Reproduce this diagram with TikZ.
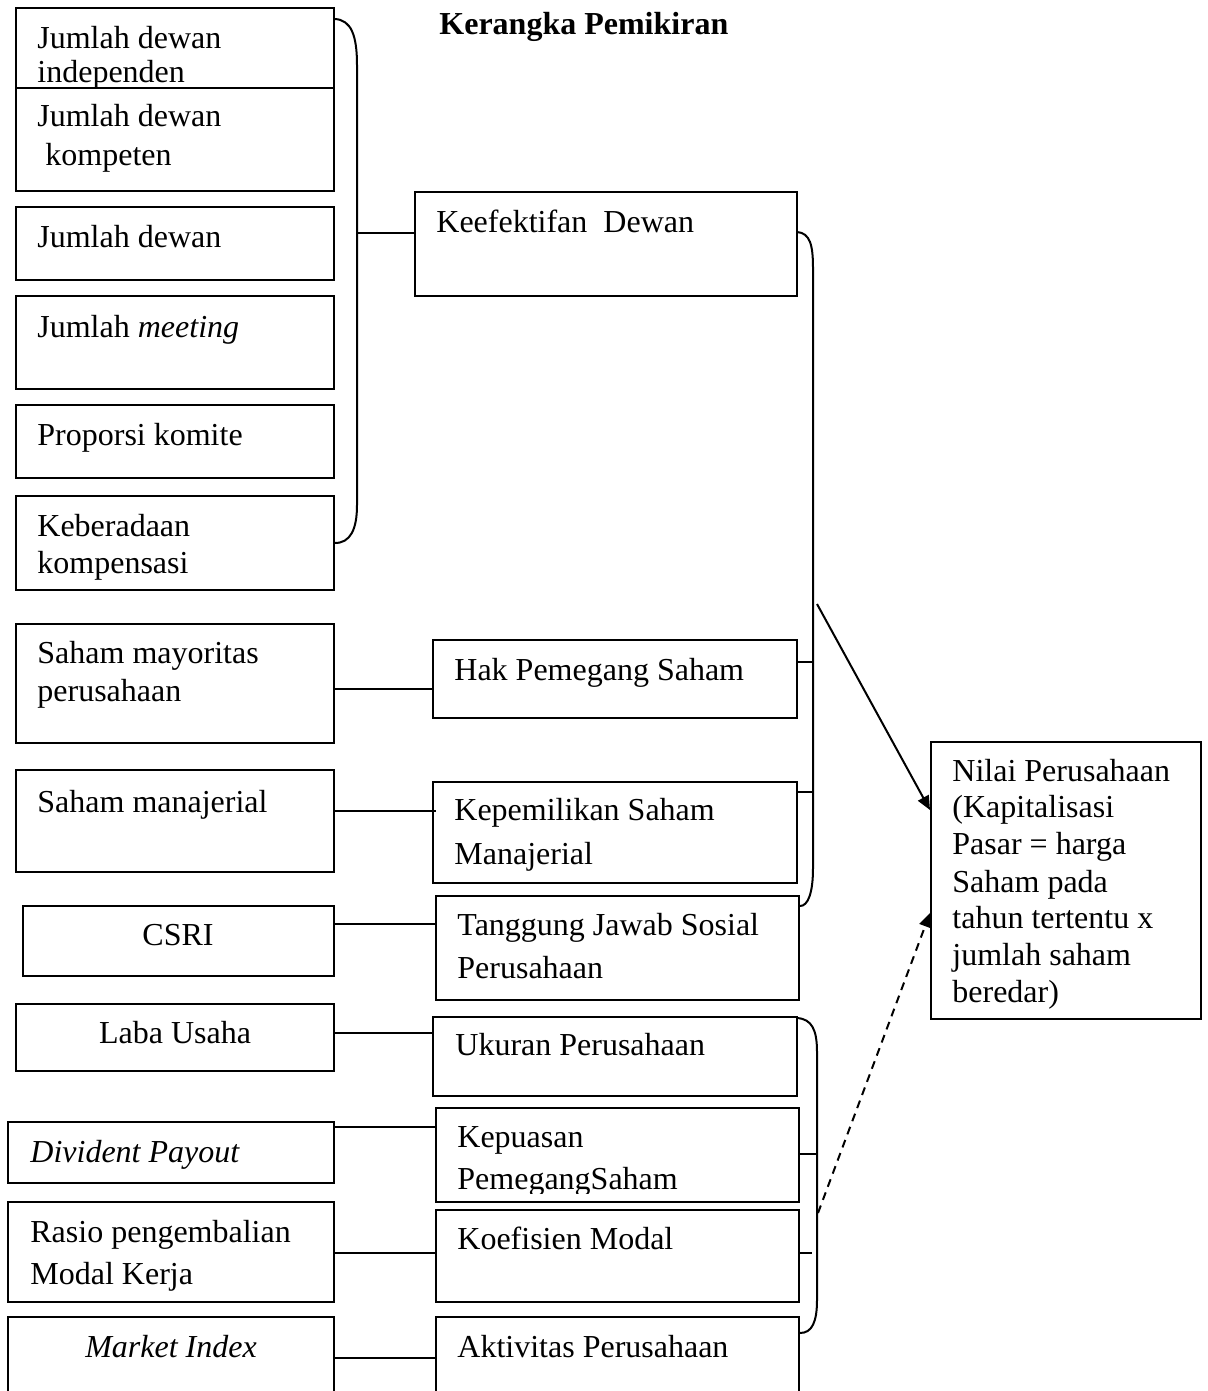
\documentclass[tikz,border=0pt]{standalone}
\usepackage{fontspec}
\setmainfont{Liberation Serif}
\usetikzlibrary{fit,arrows.meta}
\begin{document}
\begin{tikzpicture}[x={(0.5pt,0)}, y={(0,-0.5pt)},
  box/.style={draw, line width=1pt, inner sep=0pt, fill=white},
  txt/.style={anchor=base west, inner sep=0pt, font=\fontsize{16pt}{19pt}\selectfont},
  ctxt/.style={anchor=base, inner sep=0pt, font=\fontsize{16pt}{19pt}\selectfont},
  link/.style={line width=1pt},
  tip/.style={-{Triangle[length=7pt,width=6pt]}}
]
\useasboundingbox (0,0) rectangle (1208,1391);
\clip (0,0) rectangle (1208,1391);

% title
\node[txt, font=\fontsize{16pt}{19pt}\selectfont\bfseries] (title) at (439,35) {Kerangka Pemikiran};

% ---------- left column ----------
\node[box, fit={(16,8)(334,96)}] (b1) {};
\node[txt] (t1a) at (37,49) {Jumlah dewan};
\node[txt] (t1b) at (37,83) {independen};
\node[box, fit={(16,88)(334,191)}] (b2) {};
\node[txt] (t2a) at (37,127) {Jumlah dewan};
\node[txt] (t2b) at (45,166) {kompeten};
\node[box, fit={(16,207)(334,280)}] (b3) {};
\node[txt] (t3) at (37,248) {Jumlah dewan};
\node[box, fit={(16,296)(334,389)}] (b4) {};
\node[txt] (t4) at (37,337) {Jumlah \textit{meeting}};
\node[box, fit={(16,405)(334,478)}] (b5) {};
\node[txt] (t5) at (37,445) {Proporsi komite};
\node[box, fit={(16,496)(334,590)}] (b6) {};
\node[txt] (t6a) at (37,536) {Keberadaan};
\node[txt] (t6b) at (37,573) {kompensasi};
\node[box, fit={(16,624)(334,743)}] (b7) {};
\node[txt] (t7a) at (37,663) {Saham mayoritas};
\node[txt] (t7b) at (37,701) {perusahaan};
\node[box, fit={(16,770)(334,872)}] (b8) {};
\node[txt] (t8) at (37,812) {Saham manajerial};
\node[box, fit={(23,906)(334,976)}] (b9) {};
\node[ctxt] (t9) at (178,945) {CSRI};
\node[box, fit={(16,1004)(334,1071)}] (b10) {};
\node[ctxt] (t10) at (175,1043) {Laba Usaha};
\node[box, fit={(8,1122)(334,1183)}] (b11) {};
\node[txt] (t11) at (30,1162) {\textit{Divident Payout}};
\node[box, fit={(8,1202)(334,1302)}] (b12) {};
\node[txt] (t12a) at (30,1242) {Rasio pengembalian};
\node[txt] (t12b) at (30,1284) {Modal Kerja};
\node[box, fit={(8,1317)(334,1420)}] (b13) {};
\node[ctxt] (t13) at (171,1357) {\textit{Market Index}};

% ---------- middle column ----------
\node[box, fit={(415,192)(797,296)}] (m1) {};
\node[txt] (s1) at (436,233) {Keefektifan\ \ Dewan};
\node[box, fit={(433,640)(797,718)}] (m2) {};
\node[txt] (s2) at (454,680) {Hak Pemegang Saham};
\node[box, fit={(433,782)(797,883)}] (m3) {};
\node[txt] (s3a) at (454,820) {Kepemilikan Saham};
\node[txt] (s3b) at (454,864) {Manajerial};
\node[box, fit={(436,896)(799,1000)}] (m4) {};
\node[txt] (s4a) at (457,935) {Tanggung Jawab Sosial};
\node[txt] (s4b) at (457,978) {Perusahaan};
\node[box, fit={(433,1017)(797,1096)}] (m5) {};
\node[txt] (s5) at (455,1055) {Ukuran Perusahaan};
\node[box, fit={(436,1108)(799,1202)}] (m6) {};
\begin{scope}
\clip (437,1109) rectangle (798,1193);
\node[txt] (s6a) at (457,1147) {Kepuasan};
\node[txt] (s6b) at (457,1189) {PemegangSaham};
\end{scope}
\node[box, fit={(436,1210)(799,1302)}] (m7) {};
\node[txt] (s7) at (457,1249) {Koefisien Modal};
\node[box, fit={(436,1317)(799,1420)}] (m8) {};
\node[txt] (s8) at (457,1357) {Aktivitas Perusahaan};

% ---------- right box ----------
\node[box, fit={(931,742)(1201,1019)}] (nv) {};
\node[txt] (n1) at (952,781) {Nilai Perusahaan};
\node[txt] (n2) at (952,817) {(Kapitalisasi};
\node[txt] (n3) at (952,854) {Pasar = harga};
\node[txt] (n4) at (952,892) {Saham pada};
\node[txt] (n5) at (952,928) {tahun tertentu x};
\node[txt] (n6) at (952,965) {jumlah saham};
\node[txt] (n7) at (952,1002) {beredar)};

% ---------- brackets ----------
\coordinate (lbTop) at (335,19);
\coordinate (lbBot) at (335,543);
\draw[link] (lbTop) .. controls (351,20) and (357,35) .. (357,65) -- (357,505) .. controls (357,530) and (350,543) .. (lbBot);
\coordinate (lbMid) at (357,233);
\draw[link] (lbMid) -- (m1.west |- lbMid);

\coordinate (rbTop) at (797,232);
\coordinate (rbBot) at (800,906);
\draw[link] (rbTop) .. controls (810,233) and (813,245) .. (813,268) -- (813,868) .. controls (813,893) and (808,906) .. (rbBot);
\draw[link] (m2.east |- 0,662) -- (813,662);
\draw[link] (m3.east |- 0,792) -- (813,792);

\coordinate (bbTop) at (797,1018);
\coordinate (bbBot) at (800,1333);
\draw[link] (bbTop) .. controls (812,1019) and (817,1030) .. (817,1052) -- (817,1300) .. controls (817,1322) and (812,1333) .. (bbBot);
\draw[link] (m6.east |- 0,1154) -- (817,1154);
\coordinate (stubEnd) at (812,1253);
\draw[link] (m7.east |- stubEnd) -- (stubEnd);

% ---------- arrows ----------
\coordinate (a1start) at (817,604);
\draw[link, tip] (a1start) -- (nv.west |- 0,810);
\coordinate (a2start) at (818,1213);
\draw[link, tip, dash pattern=on 4pt off 3pt] (a2start) -- (nv.west |- 0,913);

% ---------- horizontal connectors ----------
\draw[link] (b7.east |- 0,689) -- (m2.west |- 0,689);
\draw[link] (b8.east |- 0,811) -- (436,811);
\draw[link] (b9.east |- 0,924) -- (m4.west |- 0,924);
\draw[link] (b10.east |- 0,1033) -- (m5.west |- 0,1033);
\draw[link] (b11.east |- 0,1127) -- (m6.west |- 0,1127);
\draw[link] (b12.east |- 0,1253) -- (m7.west |- 0,1253);
\draw[link] (b13.east |- 0,1358) -- (m8.west |- 0,1358);
\end{tikzpicture}
\end{document}
